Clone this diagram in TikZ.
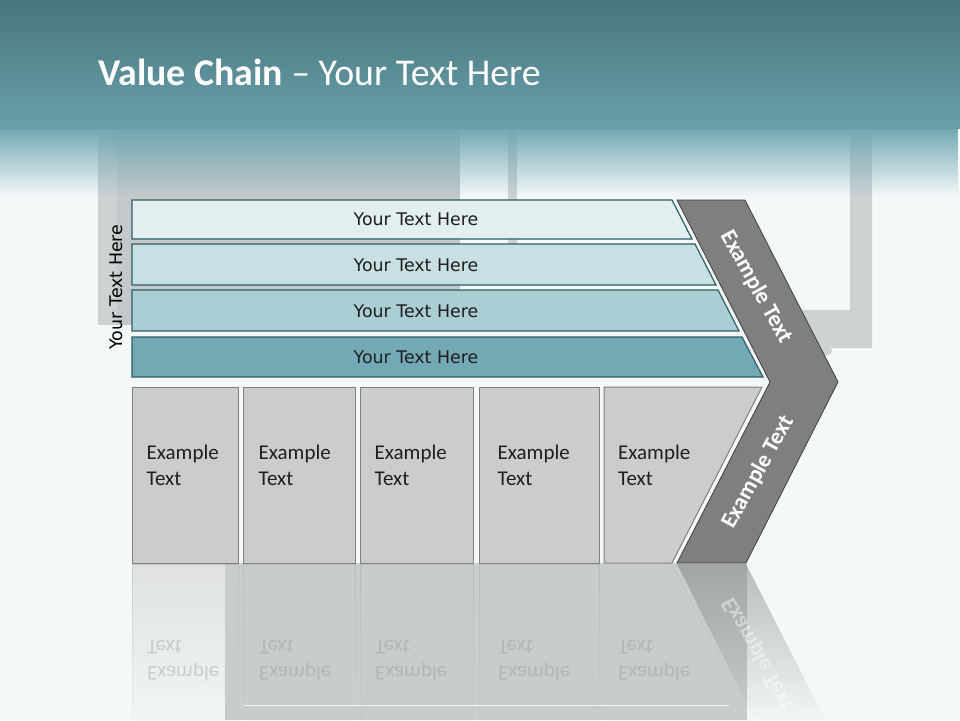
\documentclass[tikz,border=0pt]{standalone}
\usepackage{fontspec}
\setmainfont{Carlito}
\newfontfamily\barfont{DejaVu Sans}
\usetikzlibrary{fadings,positioning}
\definecolor{headtop}{HTML}{4A757D}
\definecolor{headbot}{HTML}{67A0AB}
\definecolor{fadeband}{HTML}{6FA7B1}
\definecolor{paper}{HTML}{F4F8F9}
\definecolor{panel}{HTML}{C3C9CA}
\definecolor{frame}{HTML}{CDD2D3}
\definecolor{barline}{HTML}{2F5D66}
\definecolor{barA}{HTML}{E2EEF0}
\definecolor{barB}{HTML}{C8DFE3}
\definecolor{barC}{HTML}{ABCDD4}
\definecolor{barD}{HTML}{73A9B5}
\definecolor{bartxt}{HTML}{1E1E1E}
\definecolor{cellfill}{HTML}{CCCCCC}
\definecolor{cellline}{HTML}{808080}
\definecolor{chevfill}{HTML}{7F7F7F}
\definecolor{chevline}{HTML}{3F3F3F}
\definecolor{mirrorbg}{HTML}{C8CDCE}

\begin{document}
\begin{tikzpicture}[x=1pt,y=-1pt,
  bar/.style={draw=barline, line width=1.2pt},
  bartext/.style={font=\barfont\fontsize{17.4}{20}\selectfont, text=bartxt, inner sep=0pt},
  cell/.style={draw=cellline, fill=cellfill, line width=1pt, inner sep=0pt},
  celltext/.style={font=\fontsize{21}{26}\selectfont, align=left, anchor=west, inner sep=0pt, text=black!88},
  chev/.style={fill=chevfill, draw=chevline, line width=0.8pt},
  chevtext/.style={font=\bfseries\fontsize{23}{26}\selectfont, text=white, inner sep=0pt},
  mirrortext/.style={text=black!45, text opacity=0.35, yscale=-1},
  mirrorcell/.style={fill=cellfill, draw=cellline!70, fill opacity=0.5, draw opacity=0.4, path fading=south}]
\useasboundingbox (0,0) rectangle (960,720);

\fill[paper] (0,0) rectangle (960,720);

\fill[panel] (115,128) rectangle (460,325);
\fill[frame] (98,128) rectangle (117,325);
\fill[frame] (508,128) rectangle (517,245);
\fill[frame] (850,128) -- (872,128) -- (872,348) -- (800,348) -- (800,310) -- (850,310) -- cycle;
\fill[frame] (822,351) ellipse (10pt and 5pt);

\fill[fadeband, path fading=south] (0,127) rectangle (960,196);
\shade[top color=headtop, bottom color=headbot] (0,0) rectangle (960,128);
\node[anchor=base west, inner sep=0pt, text=white, font=\fontsize{37.8}{44}\selectfont] (title) at (98,85) {\textbf{Value Chain} -- Your Text Here};

\fill[mirrorbg] (225,563) rectangle (747,720);
\draw[white!85!mirrorbg, line width=1pt] (243,705) -- (729,705);

\draw[bar, fill=barA] (132,200) -- (672,200) -- (692,239) -- (132,239) -- cycle;
\draw[bar, fill=barB] (132,244) -- (695,244) -- (716,285) -- (132,285) -- cycle;
\draw[bar, fill=barC] (132,290) -- (718,290) -- (739,331) -- (132,331) -- cycle;
\draw[bar, fill=barD] (132,337) -- (742,337) -- (763,377) -- (132,377) -- cycle;
\node[bartext] (b1) at (416,219.5) {Your Text Here};
\node[bartext] (b2) at (416,265) {Your Text Here};
\node[bartext] (b3) at (416,311) {Your Text Here};
\node[bartext] (b4) at (416,357) {Your Text Here};
\node[bartext, rotate=90, text=black] (side) at (116,287) {Your Text Here};

\draw[chev] (677,200) -- (745,200) -- (838,382) -- (746,563) -- (677,563) -- (770,382) -- cycle;
\node[chevtext, rotate=-61] (up) at (756,287) {Example Text};
\node[chevtext, rotate=61] (down) at (758,472) {Example Text};

\node[cell, minimum width=106pt, minimum height=176pt] (c1) at (185,475) {};
\node[cell, minimum width=112pt, minimum height=176pt] (c2) at (299,475) {};
\node[cell, minimum width=113pt, minimum height=176pt] (c3) at (416.5,475) {};
\node[cell, minimum width=120pt, minimum height=176pt] (c4) at (539,475) {};
\draw[cell] (604,387) -- (762,387) -- (672,563) -- (604,563) -- cycle;
\node[celltext] (t1) at ([xshift=15pt,yshift=10pt]c1.west) {Example\\Text};
\node[celltext] (t2) at ([xshift=16pt,yshift=10pt]c2.west) {Example\\Text};
\node[celltext] (t3) at ([xshift=15pt,yshift=10pt]c3.west) {Example\\Text};
\node[celltext] (t4) at ([xshift=19pt,yshift=10pt]c4.west) {Example\\Text};
\node[celltext] (t5) at (618,465) {Example\\Text};

\fill[mirrorcell] (132,564) rectangle (238,739);
\fill[mirrorcell] (243,564) rectangle (355,739);
\fill[mirrorcell] (360,564) rectangle (473,739);
\fill[mirrorcell] (479,564) rectangle (599,739);
\fill[mirrorcell] (604,564) -- (672,564) -- (762,739) -- (604,739) -- cycle;
\fill[chevfill, fill opacity=0.5, path fading=south] (677,564) -- (746,564) -- (828,725) -- (757,725) -- cycle;
\node[celltext, mirrortext] (m1) at (147,661) {Example\\Text};
\node[celltext, mirrortext] (m2) at (259,661) {Example\\Text};
\node[celltext, mirrortext] (m3) at (375,661) {Example\\Text};
\node[celltext, mirrortext] (m4) at (498,661) {Example\\Text};
\node[celltext, mirrortext] (m5) at (618,661) {Example\\Text};
\node[chevtext, text opacity=0.45, rotate=-61, yscale=-1] (mdown) at (758,654) {Example Text};
\end{tikzpicture}
\end{document}
